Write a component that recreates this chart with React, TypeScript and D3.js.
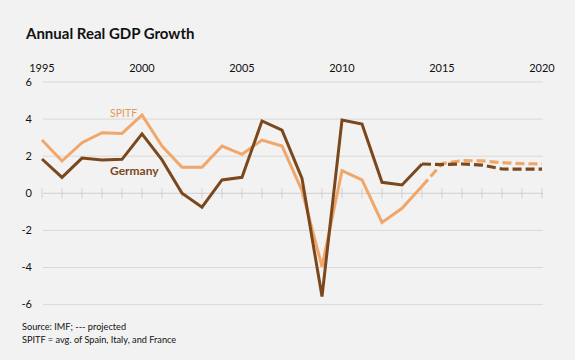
import React from "react";
import * as d3 from "d3";

const years = [1995,1996,1997,1998,1999,2000,2001,2002,2003,2004,2005,2006,2007,2008,2009,2010,2011,2012,2013,2014,2015,2016,2017,2018,2019,2020];
const germany = [1.85,0.86,1.9,1.8,1.83,3.2,1.8,0.0,-0.75,0.72,0.86,3.9,3.4,0.8,-5.57,3.95,3.73,0.59,0.45,1.58,1.55,1.58,1.52,1.31,1.3,1.3];
const spitf = [2.87,1.74,2.73,3.27,3.23,4.22,2.55,1.4,1.4,2.55,2.1,2.87,2.55,0.15,-3.95,1.22,0.72,-1.57,-0.81,0.38,1.6,1.76,1.75,1.65,1.6,1.58];
const lastActualYear = 2014;
const yTicks = [6,4,2,0,-2,-4,-6];
const xLabelYears = [1995,2000,2005,2010,2015,2020];

const W = 575, H = 360;
const FONT = "Lato, 'Open Sans', sans-serif";

export default function App() {
  const x = d3.scaleLinear().domain([1995, 2020]).range([42, 542]);
  const y = d3.scaleLinear().domain([-6, 6]).range([304.6, 82]);
  const line = d3.line<[number, number]>().x(d => x(d[0])).y(d => y(d[1]));

  const seg = (vals: number[], actual: boolean) =>
    years.map((yr, i) => [yr, vals[i]] as [number, number])
      .filter(d => actual ? d[0] <= lastActualYear : d[0] >= lastActualYear);

  const cGer = "#7b471c";
  const cSp = "#f0a769";

  return (
    <div style={{ position: "fixed", left: 0, top: 0 }}>
      <svg width={W} height={H} style={{ display: "block", background: "#f2f2f2" }} fontFamily={FONT}>
        <rect width={W} height={H} fill="#f2f2f2" />
        <text x={26} y={39} fontSize={15} fontWeight={700} fill="#111">Annual Real GDP Growth</text>
        {xLabelYears.map(yr => (
          <text key={yr} x={x(yr)} y={72} fontSize={11} textAnchor="middle" fill="#111">{yr}</text>
        ))}
        {yTicks.map(t => (
          <g key={t}>
            <line x1={43} x2={543} y1={y(t)} y2={y(t)} stroke={t === 0 ? "#cfcfcf" : "#d9d9d9"} strokeWidth={1} />
            <text x={32} y={y(t)} dy="0.35em" fontSize={11} textAnchor="end" fill="#111">{t}</text>
          </g>
        ))}
        {years.map(yr => (
          <line key={yr} x1={x(yr)} x2={x(yr)} y1={y(0) - 5} y2={y(0) + 5} stroke="#cfcfcf" strokeWidth={1} />
        ))}
        <path d={line(seg(spitf, true)) || ""} fill="none" stroke={cSp} strokeWidth={3} strokeLinejoin="miter" />
        <path d={line(seg(spitf, false)) || ""} fill="none" stroke={cSp} strokeWidth={3.2} strokeDasharray="9,4" />
        <path d={line(seg(germany, true)) || ""} fill="none" stroke={cGer} strokeWidth={3} strokeLinejoin="miter" />
        <path d={line(seg(germany, false)) || ""} fill="none" stroke={cGer} strokeWidth={3.2} strokeDasharray="9,4" />
        <text x={110} y={117} fontSize={10.5} fill="#e39a5b">SPITF</text>
        <text x={110} y={175} fontSize={12} fontWeight={700} fill="#7b471c">Germany</text>
        <text x={22} y={330} fontSize={9.2} fill="#111">Source:  IMF; --- projected</text>
        <text x={22} y={343} fontSize={9.2} fill="#111">SPITF = avg. of Spain, Italy, and France</text>
      </svg>
    </div>
  );
}
